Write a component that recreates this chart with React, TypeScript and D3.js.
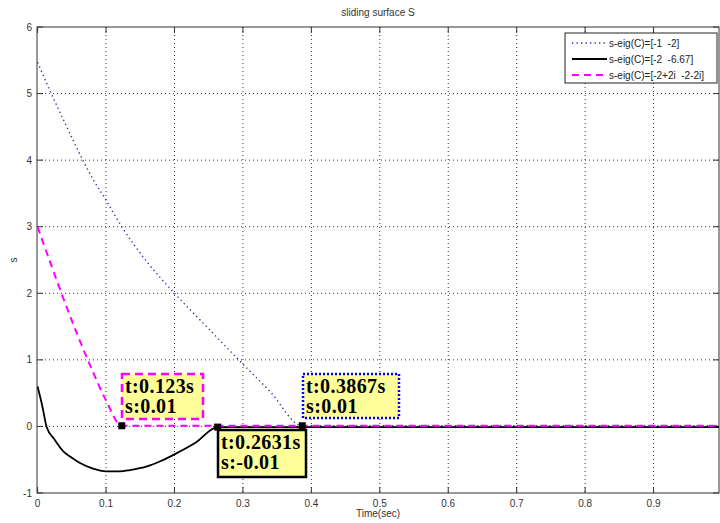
import React, { useEffect, useRef } from "react";
import * as d3 from "d3";

// time (sec) / sliding surface values
const blueT = [0, 0.02, 0.04, 0.066, 0.08, 0.101, 0.123, 0.16, 0.2, 0.245, 0.29, 0.34, 0.3867, 1.0];
const blueS = [5.47, 5.0, 4.56, 4.0, 3.73, 3.38, 3.0, 2.47, 2.0, 1.52, 1.04, 0.52, 0.01, 0.01];

const blackT = [0, 0.007, 0.013, 0.025, 0.0376, 0.05, 0.062, 0.08, 0.1, 0.12, 0.135, 0.16, 0.18, 0.2, 0.23, 0.2631, 1.0];
const blackS = [0.6, 0.3, 0.0, -0.2, -0.375, -0.47, -0.55, -0.63, -0.675, -0.675, -0.655, -0.6, -0.52, -0.42, -0.25, -0.01, -0.01];

const magT = [0, 0.02, 0.04, 0.06, 0.08, 0.1, 0.123, 1.0];
const magS = [3.0, 2.42, 1.86, 1.33, 0.84, 0.39, 0.01, 0.01];

const legendLabels = ["s-eig(C)=[-1  -2]", "s-eig(C)=[-2  -6.67]", "s-eig(C)=[-2+2i  -2-2i]"];
const xTicks = [0, 0.1, 0.2, 0.3, 0.4, 0.5, 0.6, 0.7, 0.8, 0.9];
const yTicks = [-1, 0, 1, 2, 3, 4, 5, 6];

// data tips: time, value, label lines
const tipT = [0.123, 0.2631, 0.3867];
const tipS = [0.01, -0.01, 0.01];
const tipLines = [
  ["t:0.123s", "s:0.01"],
  ["t:0.2631s", "s:-0.01"],
  ["t:0.3867s", "s:0.01"],
];

const App = () => {
  const ref = useRef<SVGSVGElement>(null);

  useEffect(() => {
    document.body.style.margin = "0";
    const width = 720,
      height = 523;
    const left = 37,
      right = 719,
      top = 27,
      bottom = 493;

    const svg = d3.select(ref.current).attr("width", width).attr("height", height);
    svg.selectAll("*").remove();

    const x = d3.scaleLinear().domain([0, 1]).range([37.6, 722]);
    const y = d3.scaleLinear().domain([-1, 6]).range([bottom, top]);

    svg.append("rect").attr("width", width).attr("height", height).attr("fill", "#fff");

    svg.append("defs")
      .append("clipPath")
      .attr("id", "plotclip")
      .append("rect")
      .attr("x", left)
      .attr("y", top)
      .attr("width", right - left)
      .attr("height", bottom - top);

    const font = "'Liberation Sans', Arial, sans-serif";

    // grid
    const grid = svg.append("g").attr("stroke", "#000").attr("stroke-width", 0.8).attr("stroke-dasharray", "1,3");
    xTicks.slice(1).forEach((t) => {
      grid.append("line").attr("x1", x(t)).attr("x2", x(t)).attr("y1", top).attr("y2", bottom);
    });
    yTicks.slice(1, -1).forEach((v) => {
      grid.append("line").attr("x1", left).attr("x2", right).attr("y1", y(v)).attr("y2", y(v));
    });

    // frame + ticks
    const frame = svg.append("g").attr("stroke", "#333").attr("stroke-width", 1);
    frame.append("rect").attr("x", left).attr("y", top).attr("width", right - left).attr("height", bottom - top).attr("fill", "none");
    xTicks.forEach((t) => {
      frame.append("line").attr("x1", x(t)).attr("x2", x(t)).attr("y1", bottom).attr("y2", bottom - 6);
      frame.append("line").attr("x1", x(t)).attr("x2", x(t)).attr("y1", top).attr("y2", top + 6);
    });
    yTicks.forEach((v) => {
      frame.append("line").attr("x1", left).attr("x2", left + 6).attr("y1", y(v)).attr("y2", y(v));
      frame.append("line").attr("x1", right).attr("x2", right - 6).attr("y1", y(v)).attr("y2", y(v));
    });

    svg.append("g")
      .selectAll("text")
      .data(xTicks)
      .enter()
      .append("text")
      .attr("x", (d) => x(d))
      .attr("y", bottom + 14)
      .attr("text-anchor", "middle")
      .attr("font-family", font)
      .attr("font-size", 10)
      .attr("fill", "#333")
      .text((d) => d3.format("")(d));

    svg.append("g")
      .selectAll("text")
      .data(yTicks)
      .enter()
      .append("text")
      .attr("x", left - 5)
      .attr("y", (d) => y(d) + 3.5)
      .attr("text-anchor", "end")
      .attr("font-family", font)
      .attr("font-size", 10)
      .attr("fill", "#333")
      .text((d) => d);

    svg.append("text")
      .attr("x", 378)
      .attr("y", 16)
      .attr("text-anchor", "middle")
      .attr("font-family", font)
      .attr("font-size", 10)
      .attr("fill", "#333")
      .text("sliding surface S");

    svg.append("text")
      .attr("x", 378)
      .attr("y", 517)
      .attr("text-anchor", "middle")
      .attr("font-family", font)
      .attr("font-size", 10)
      .attr("fill", "#333")
      .text("Time(sec)");

    svg.append("text")
      .attr("transform", "translate(17,260)rotate(-90)")
      .attr("text-anchor", "middle")
      .attr("font-family", font)
      .attr("font-size", 10)
      .attr("fill", "#333")
      .text("s");

    // curves
    const series = [
      { t: blueT, s: blueS, color: "#2a2aa8", width: 1.4, dash: "1.3,3.2" },
      { t: blackT, s: blackS, color: "#000", width: 1.8, dash: null },
      { t: magT, s: magS, color: "#ff00ff", width: 2, dash: "7,5" },
    ];

    const plot = svg.append("g").attr("clip-path", "url(#plotclip)");
    series.forEach((sr) => {
      const pts: [number, number][] = sr.t.map((t, i) => [t, sr.s[i]]);
      const gen = d3
        .line<[number, number]>()
        .x((d) => x(d[0]))
        .y((d) => y(d[1]))
        .curve(d3.curveMonotoneX);
      const p = plot
        .append("path")
        .attr("d", gen(pts))
        .attr("fill", "none")
        .attr("stroke", sr.color)
        .attr("stroke-width", sr.width);
      if (sr.dash) p.attr("stroke-dasharray", sr.dash);
    });

    // data tips
    const tipFont = "'Liberation Serif', 'Times New Roman', serif";
    const boxes = [
      { x0: 122, y0: 374, w: 81, h: 45, stroke: "#ff00ff", dash: "8,5", sw: 2.5 },
      { x0: 218, y0: 430, w: 88, h: 47, stroke: "#000", dash: null, sw: 2.5 },
      { x0: 303, y0: 374, w: 96, h: 44, stroke: "#0000ff", dash: "2,2", sw: 2.5 },
    ];
    boxes.forEach((b, i) => {
      const r = svg
        .append("rect")
        .attr("x", b.x0)
        .attr("y", b.y0)
        .attr("width", b.w)
        .attr("height", b.h)
        .attr("fill", "#ffff99")
        .attr("stroke", b.stroke)
        .attr("stroke-width", b.sw);
      if (b.dash) r.attr("stroke-dasharray", b.dash);
      tipLines[i].forEach((txt, j) => {
        svg.append("text")
          .attr("x", b.x0 + 3)
          .attr("y", b.y0 + 19 + j * 20)
          .attr("font-family", tipFont)
          .attr("font-weight", "bold")
          .attr("font-size", 20)
          .attr("letter-spacing", 0.4)
          .attr("fill", "#000")
          .text(txt);
      });
    });
    tipT.forEach((t, i) => {
      svg.append("rect")
        .attr("x", x(t) - 3.5)
        .attr("y", y(tipS[i]) - 3.5)
        .attr("width", 7)
        .attr("height", 7)
        .attr("fill", "#000");
    });

    // legend
    const lg = svg.append("g");
    lg.append("rect")
      .attr("x", 565)
      .attr("y", 33)
      .attr("width", 152)
      .attr("height", 50)
      .attr("fill", "#fff")
      .attr("stroke", "#222")
      .attr("stroke-width", 1);
    series.forEach((sr, i) => {
      const ly = 43 + i * 16;
      const l = lg
        .append("line")
        .attr("x1", 572)
        .attr("x2", 607)
        .attr("y1", ly)
        .attr("y2", ly)
        .attr("stroke", sr.color)
        .attr("stroke-width", sr.width);
      if (sr.dash) l.attr("stroke-dasharray", sr.dash);
      lg.append("text")
        .attr("x", 609)
        .attr("y", ly + 3.5)
        .attr("font-family", font)
        .attr("font-size", 10)
        .attr("fill", "#222")
        .style("white-space", "pre")
        .text(legendLabels[i]);
    });
  }, []);

  return (
    <div>
      <svg ref={ref} style={{ display: "block" }}></svg>
    </div>
  );
};

export default App;
